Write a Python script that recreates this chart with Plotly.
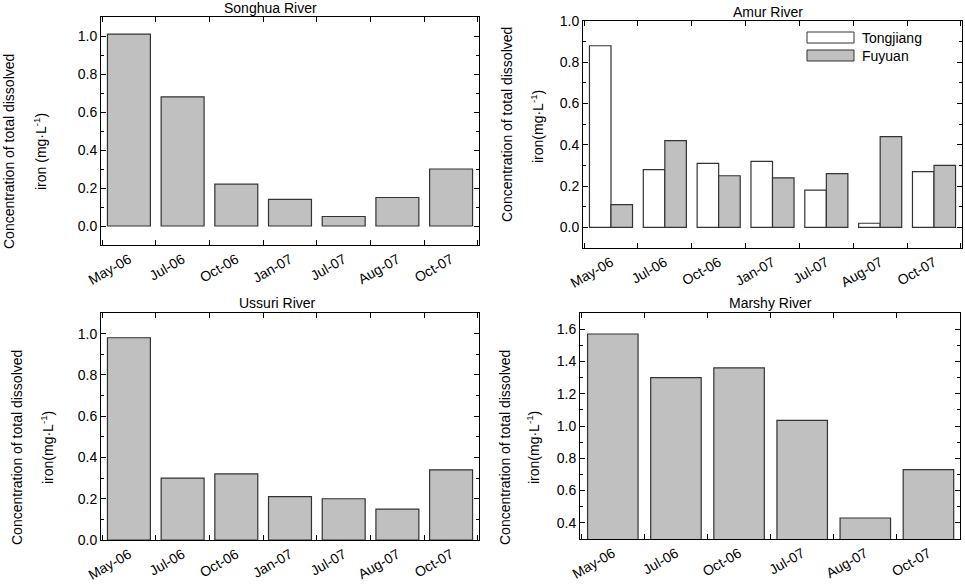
import plotly.graph_objects as go

W, H = 965, 585

# ---------------- data ----------------
cats7 = ["May-06", "Jul-06", "Oct-06", "Jan-07", "Jul-07", "Aug-07", "Oct-07"]
cats6 = ["May-06", "Jul-06", "Oct-06", "Jul-07", "Aug-07", "Oct-07"]

songhua = [1.01, 0.68, 0.22, 0.14, 0.05, 0.15, 0.30]
amur_tongjiang = [0.88, 0.28, 0.31, 0.32, 0.18, 0.02, 0.27]
amur_fuyuan = [0.11, 0.42, 0.25, 0.24, 0.26, 0.44, 0.30]
ussuri = [0.98, 0.30, 0.32, 0.21, 0.20, 0.15, 0.34]
marshy = [1.57, 1.30, 1.36, 1.035, 0.43, 0.73]

titles = ["Songhua River", "Amur River", "Ussuri River", "Marshy River"]
ytitle1 = "Concentration of total dissolved"
ytitle2_a = "iron (mg·L<sup>-1</sup>)"
ytitle2_b = "iron(mg·L<sup>-1</sup>)"
legend_names = ["Tongjiang", "Fuyuan"]

GRAY = "#c0c0c0"
EDGE = "#333333"
FONT = "Liberation Sans, Arial, sans-serif"


def px_x(p):
    return p / W


def px_y(p):
    return 1 - p / H


fig = go.Figure()

bar_line = dict(color=EDGE, width=1.2)

fig.add_trace(go.Bar(x=cats7, y=songhua, marker=dict(color=GRAY, line=bar_line),
                     xaxis="x", yaxis="y", showlegend=False))
fig.add_trace(go.Bar(x=cats7, y=amur_tongjiang, name=legend_names[0],
                     marker=dict(color="white", line=bar_line),
                     xaxis="x2", yaxis="y2", showlegend=False))
fig.add_trace(go.Bar(x=cats7, y=amur_fuyuan, name=legend_names[1],
                     marker=dict(color=GRAY, line=bar_line),
                     xaxis="x2", yaxis="y2", showlegend=False))
fig.add_trace(go.Bar(x=cats7, y=ussuri, marker=dict(color=GRAY, line=bar_line),
                     xaxis="x3", yaxis="y3", showlegend=False))
fig.add_trace(go.Bar(x=cats6, y=marshy, marker=dict(color=GRAY, line=bar_line),
                     xaxis="x4", yaxis="y4", showlegend=False))

# panel pixel boxes: (left, right, top, bottom)
boxes = [(101, 479, 17, 245), (583, 962, 21, 248), (101, 479, 313, 540), (580, 960, 313, 539)]
yranges = [[-0.1, 1.1], [-0.1, 1.0], [0, 1.1], [0.3, 1.7]]
xranges = [[-0.52, 6.52], [-0.52, 6.52], [-0.52, 6.52], [-0.52, 5.5]]

axis_common = dict(showline=True, linecolor="black", linewidth=1, mirror="allticks",
                   ticks="inside", tickcolor="black", showgrid=False, zeroline=False,
                   automargin=False,
                   tickfont=dict(family=FONT, size=14, color="black"))

layout = dict(
    width=W, height=H, margin=dict(l=0, r=0, t=0, b=0, autoexpand=False),
    paper_bgcolor="white", plot_bgcolor="white",
    barmode="group", bargap=0.2, bargroupgap=0.0,
    showlegend=False,
    font=dict(family=FONT, color="black"),
)

for i, (l, r, t, b) in enumerate(boxes):
    sfx = "" if i == 0 else str(i + 1)
    layout["xaxis" + sfx] = dict(
        axis_common, domain=[px_x(l), px_x(r)], anchor="y" + sfx,
        type="category", range=xranges[i], tickson="boundaries", ticklen=5,
        tickangle=-30,
    )
    layout["yaxis" + sfx] = dict(
        axis_common, domain=[px_y(b), px_y(t)], anchor="x" + sfx,
        range=yranges[i], dtick=0.2, tick0=0, tickformat=".1f", ticklen=5,
        minor=dict(ticks="inside", ticklen=3, dtick=0.1, tick0=0, tickcolor="black"),
    )

annotations = []
# panel titles
title_pos = [(270, 8), (768, 12), (277, 303), (770, 303)]
for txt, (x, y) in zip(titles, title_pos):
    annotations.append(dict(text=txt, x=px_x(x), y=px_y(y), xref="paper", yref="paper",
                            xanchor="center", yanchor="middle", showarrow=False,
                            font=dict(family=FONT, size=14, color="black")))

# y-axis titles (two lines each)
ytitle_pos = [((9, 152), (40, 152), ytitle2_a), ((507, 124), (537, 127), ytitle2_b),
              ((17, 448), (47, 448), ytitle2_b), ((505, 448), (533, 448), ytitle2_b)]
for (p1, p2, t2) in ytitle_pos:
    annotations.append(dict(text=ytitle1, x=px_x(p1[0]), y=px_y(p1[1]), xref="paper", yref="paper",
                            xanchor="center", yanchor="middle", showarrow=False, textangle=-90,
                            font=dict(family=FONT, size=14, color="black")))
    annotations.append(dict(text=t2, x=px_x(p2[0]), y=px_y(p2[1]), xref="paper", yref="paper",
                            xanchor="center", yanchor="middle", showarrow=False, textangle=-90,
                            font=dict(family=FONT, size=14, color="black")))

# legend for Amur panel (drawn as keys + labels)
shapes = []
leg_rows = [(legend_names[0], "white", 32, 43), (legend_names[1], GRAY, 50, 61)]
for name, col, y0, y1 in leg_rows:
    shapes.append(dict(type="rect", xref="paper", yref="paper",
                       x0=px_x(807), x1=px_x(854), y0=px_y(y1), y1=px_y(y0),
                       fillcolor=col, line=dict(color=EDGE, width=1)))
    annotations.append(dict(text=name, x=px_x(860), y=px_y((y0 + y1) / 2), xref="paper", yref="paper",
                            xanchor="left", yanchor="middle", showarrow=False,
                            font=dict(family=FONT, size=14, color="black")))

layout["annotations"] = annotations
layout["shapes"] = shapes
fig.update_layout(**layout)

fig.write_html("out.html", config={"displayModeBar": False},
               post_script="document.body.style.margin='0';document.body.style.padding='0';")
